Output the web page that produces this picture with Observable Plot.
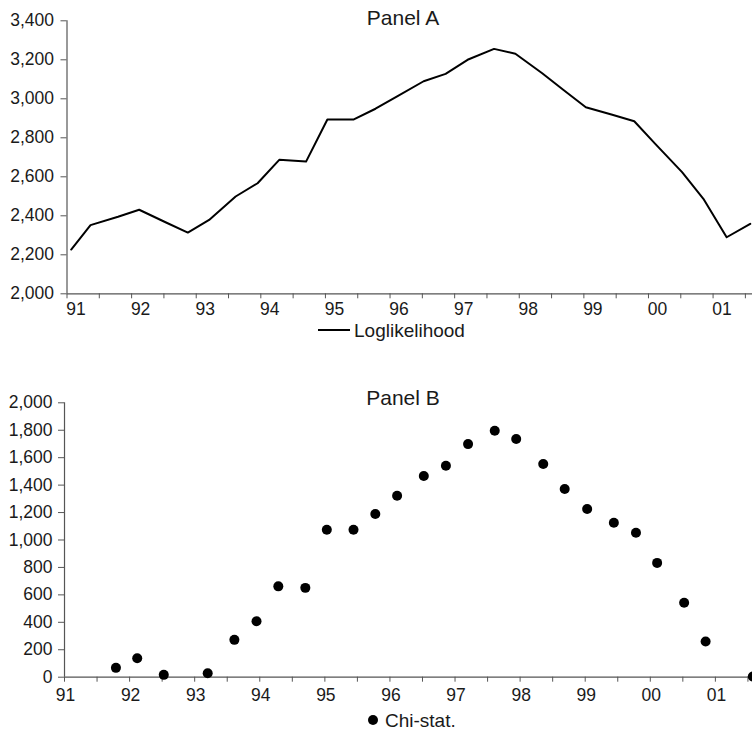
<!DOCTYPE html>
<html><head><meta charset="utf-8">
<script src="https://cdn.jsdelivr.net/npm/d3@7"></script>
<script src="https://cdn.jsdelivr.net/npm/@observablehq/plot@0.6"></script>
<style>
body{margin:0;background:#fff;font-family:"Liberation Sans",Arial,sans-serif;color:#1a1a1a}
#wrap{position:relative;width:752px;height:732px;overflow:hidden}
.abs{position:absolute}
.title{font-size:21px;transform:translateX(-50%);white-space:nowrap;line-height:1}
.legend{font-size:19px;display:flex;align-items:center;white-space:nowrap;line-height:1}
</style></head><body>
<div id="wrap"></div>
<script>
// Observation dates (decimal years, 91 = 1991)
const dates = [91.065, 91.364, 91.79, 92.117, 92.525, 92.87, 93.20, 93.61, 93.95, 94.285,
  94.70, 95.03, 95.44, 95.775, 96.11, 96.52, 96.86, 97.20, 97.61, 97.94,
  98.355, 98.685, 99.03, 99.44, 99.78, 100.105, 100.52, 100.85, 101.21, 101.575];
// Panel A: log-likelihood
const loglik = [2227, 2352, 2395, 2431, 2367, 2314, 2379, 2499, 2567, 2687,
  2678, 2894, 2894, 2949, 3012, 3090, 3128, 3200, 3256, 3231,
  3131, 3045, 2957, 2918, 2885, 2769, 2624, 2487, 2290, 2359];
// Panel B: Chi-stat (null = not shown)
const chi = [null, null, 68, 138, 17, null, 29, 272, 408, 662,
  651, 1075, 1075, 1190, 1323, 1466, 1541, 1699, 1796, 1736,
  1554, 1372, 1226, 1126, 1053, 833, 542, 260, null, 5];

const yearTicks = [91, 92, 93, 94, 95, 96, 97, 98, 99, 100, 101];
const yearLabels = ["91", "92", "93", "94", "95", "96", "97", "98", "99", "00", "01"];
const halfTicks = [91, 91.5, 92, 92.5, 93, 93.5, 94, 94.5, 95, 95.5, 96, 96.5, 97, 97.5, 98, 98.5, 99, 99.5, 100, 100.5, 101, 101.5];
const yTicksA = [2000, 2200, 2400, 2600, 2800, 3000, 3200, 3400];
const yTicksB = [0, 200, 400, 600, 800, 1000, 1200, 1400, 1600, 1800, 2000];
const titles = ["Panel A", "Panel B"];
const legendNames = ["Loglikelihood", "Chi-stat."];

const dataA = dates.map((d, i) => ({date: d, v: loglik[i]}));
const dataB = dates.map((d, i) => ({date: d, v: chi[i]})).filter(d => d.v != null);

const axisColor = "#555";
const fmt = d3.format(",");
const labelOf = d => yearLabels[yearTicks.indexOf(d)];
const style = {fontFamily: '"Liberation Sans", Arial, sans-serif', fontSize: "17.5px", color: "#1a1a1a", background: "transparent", overflow: "visible"};

const wrap = document.getElementById("wrap");

function panel(data, yDomain, yTicks, xMax, marginLeft, padY, padX, labelDx, isLine) {
  return Plot.plot({
    width: 752,
    height: 20.3 + (isLine ? 273 : 274.4) + 30,
    marginTop: 20.3,
    marginBottom: 30,
    marginLeft: marginLeft,
    marginRight: 0,
    style,
    x: {domain: [91, xMax]},
    y: {domain: yDomain},
    marks: [
      Plot.axisY({ticks: yTicks, tickFormat: fmt, tickSize: 6, tickPadding: padY, label: null, stroke: axisColor}),
      Plot.axisX({ticks: halfTicks, tickFormat: () => "", tickSize: 5, label: null, stroke: axisColor}),
      Plot.axisX({ticks: yearTicks, tickFormat: labelOf, tickSize: 0, tickPadding: padX, dx: labelDx, label: null}),
      Plot.ruleX([91], {stroke: axisColor, strokeWidth: 1.2}),
      Plot.ruleY([yDomain[0]], {stroke: axisColor, strokeWidth: 1.2}),
      isLine
        ? Plot.line(data, {x: "date", y: "v", stroke: "#000", strokeWidth: 2})
        : Plot.dot(data, {x: "date", y: "v", r: 5, fill: "#000", stroke: "none"})
    ]
  });
}

const svgA = panel(dataA, [2000, 3400], yTicksA, 101.61, 66.5, 7, 9, 9, true);
svgA.classList.add("abs"); svgA.style.left = "0px"; svgA.style.top = "0px";
wrap.appendChild(svgA);

const svgB = panel(dataB, [0, 2000], yTicksB, 101.57, 64, 6, 11, 1, false);
svgB.classList.add("abs"); svgB.style.left = "0px"; svgB.style.top = "382px";
wrap.appendChild(svgB);

function addTitle(text, top) {
  const t = document.createElement("div");
  t.className = "abs title"; t.textContent = text;
  t.style.left = "403px"; t.style.top = top + "px";
  wrap.appendChild(t);
}
addTitle(titles[0], 7.2);
addTitle(titles[1], 387.2);

function addLegend(name, left, top, swatch) {
  const l = document.createElement("div");
  l.className = "abs legend"; l.style.left = left + "px"; l.style.top = top + "px";
  l.innerHTML = swatch + `<span>${name}</span>`;
  wrap.appendChild(l);
}
addLegend(legendNames[0], 318, 320.7,
  `<svg width="32" height="4" style="margin-right:4px"><line x1="0" x2="32" y1="2" y2="2" stroke="#000" stroke-width="2"/></svg>`);
addLegend(legendNames[1], 368, 710.7,
  `<svg width="10" height="10" style="margin-right:7px"><circle cx="5" cy="5" r="5" fill="#000"/></svg>`);
</script>
</body></html>
